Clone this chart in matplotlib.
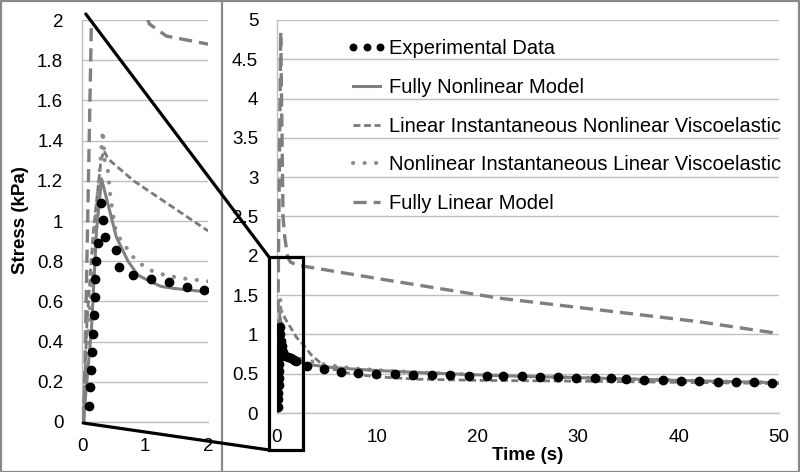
import numpy as np
import matplotlib
matplotlib.use("Agg")
import matplotlib.pyplot as plt
from matplotlib.patches import Rectangle, ConnectionPatch
from matplotlib.lines import Line2D

plt.rcParams['font.family'] = ['Liberation Sans', 'DejaVu Sans']
plt.rcParams['lines.scale_dashes'] = False

# ---------------- data ----------------
exp_t = [0.11, 0.13, 0.14, 0.16, 0.175, 0.19, 0.20, 0.21, 0.23, 0.25, 0.30, 0.33, 0.36,
         0.545, 0.58, 0.81, 1.10, 1.38, 1.66, 1.94,
         2.95, 4.7, 6.4, 8.1, 9.9, 11.8, 13.5, 15.4, 17.2, 19.1, 20.9, 22.5, 24.4, 26.2,
         28.0, 29.8, 31.7, 33.3, 34.8, 36.6, 38.4, 40.2, 42.0, 43.9, 45.7, 47.5, 49.3]
exp_s = [0.08, 0.175, 0.26, 0.35, 0.44, 0.53, 0.62, 0.71, 0.80, 0.89, 1.09, 1.005, 0.92,
         0.855, 0.77, 0.73, 0.71, 0.695, 0.673, 0.657,
         0.60, 0.555, 0.525, 0.505, 0.495, 0.49, 0.485, 0.48, 0.48, 0.475, 0.47, 0.47, 0.465, 0.46,
         0.455, 0.45, 0.445, 0.44, 0.43, 0.42, 0.415, 0.41, 0.405, 0.40, 0.395, 0.39, 0.385]

fnl_t = [0, 0.02, 0.15, 0.23, 0.31, 0.44, 0.545, 0.73, 0.89, 1.08, 1.25, 1.45, 1.95,
         2.3, 3, 5, 7.5, 10, 15, 20, 25, 30, 40, 50]
fnl_s = [0, 0, 0.46, 0.95, 1.21, 1.05, 0.92, 0.80, 0.73, 0.70, 0.675, 0.665, 0.648,
         0.64, 0.62, 0.585, 0.56, 0.54, 0.51, 0.485, 0.465, 0.45, 0.415, 0.385]

lin_inst_t = [0, 0.02, 0.08, 0.18, 0.30, 0.35, 0.41, 0.82, 1.34, 1.98, 2.3, 2.8, 3.4, 4.4,
              5.5, 7, 9, 10, 14, 20, 25, 30, 40, 50]
lin_inst_s = [0, 0, 0.5, 0.95, 1.30, 1.35, 1.31, 1.20, 1.09, 0.955, 0.92, 0.84, 0.74, 0.63,
              0.56, 0.51, 0.475, 0.46, 0.43, 0.415, 0.41, 0.405, 0.39, 0.375]

nl_inst_t = [0, 0.02, 0.10, 0.20, 0.28, 0.33, 0.36, 0.41, 0.44, 0.52, 0.62, 0.70, 0.78, 0.92,
             1.05, 1.21, 1.39, 1.58, 1.74, 1.92, 2.3, 3, 5, 7.5, 10, 15, 20, 25, 30, 40, 50]
nl_inst_s = [0, 0, 0.45, 0.95, 1.25, 1.45, 1.30, 1.25, 1.15, 0.97, 0.90, 0.87, 0.83, 0.79,
             0.76, 0.74, 0.726, 0.715, 0.71, 0.703, 0.69, 0.67, 0.61, 0.57, 0.545, 0.51, 0.485,
             0.465, 0.45, 0.415, 0.385]

flin_t = [0, 0.03, 0.15, 0.37, 0.6, 0.77, 1.07, 1.34, 2.0, 3, 11, 22.2, 32.2, 42.1, 50]
flin_s = [0, 0, 2.0, 4.85, 2.5, 2.24, 1.98, 1.92, 1.88, 1.86, 1.69, 1.46, 1.31, 1.16, 1.01]

labels = ["Experimental Data", "Fully Nonlinear Model",
          "Linear Instantaneous Nonlinear Viscoelastic",
          "Nonlinear Instantaneous Linear Viscoelastic", "Fully Linear Model"]

inset_xticks = [0, 1, 2]
inset_yticks = [0, 0.2, 0.4, 0.6, 0.8, 1, 1.2, 1.4, 1.6, 1.8, 2]
main_xticks = [0, 10, 20, 30, 40, 50]
main_yticks = [0, 0.5, 1, 1.5, 2, 2.5, 3, 3.5, 4, 4.5, 5]

# ---------------- figure ----------------
W, H = 800, 472
fig = plt.figure(figsize=(W / 100, H / 100), dpi=100)

axL = fig.add_axes([82 / W, 50 / H, 126 / W, 402 / H])
axM = fig.add_axes([277 / W, 59 / H, 502 / W, 393 / H])

GRID = '#bfbfbf'
GRAY = '#808080'

def draw(ax):
    h = []
    h.append(ax.plot(exp_t, exp_s, linestyle='none', marker='o', ms=6.0, color='black',
                     zorder=5)[0])
    h.append(ax.plot(fnl_t, fnl_s, '-', color=GRAY, lw=2.2, zorder=4)[0])
    h.append(ax.plot(lin_inst_t, lin_inst_s, color='#7a7a7a', lw=2.0,
                     dashes=(5, 2.6), zorder=3)[0])
    l = ax.plot(nl_inst_t, nl_inst_s, color='#8c8c8c', lw=3.0,
                dashes=(0.1, 8.2), zorder=3)[0]
    l.set_dash_capstyle('round')
    h.append(l)
    h.append(ax.plot(flin_t, flin_s, color='#7f7f7f', lw=2.4,
                     dashes=(9.5, 5), zorder=3)[0])
    return h

def style(ax, xt, yt, xlim, ylim):
    ax.set_xlim(*xlim)
    ax.set_ylim(*ylim)
    ax.set_xticks(xt)
    ax.set_yticks(yt)
    ax.set_xticklabels([f"{v:g}" for v in xt])
    ax.set_yticklabels([f"{v:g}" for v in yt])
    ax.yaxis.grid(True, color=GRID, lw=1.0)
    ax.set_axisbelow(True)
    for s in ['top', 'right']:
        ax.spines[s].set_visible(False)
    for s in ['left', 'bottom']:
        ax.spines[s].set_color(GRID)
        ax.spines[s].set_linewidth(1.0)
    ax.tick_params(length=0, labelsize=13.5, colors='black')
    ax.tick_params(axis='y', pad=13.5)
    ax.tick_params(axis='x', pad=11.5)

draw(axL)
handles = draw(axM)
style(axL, inset_xticks, inset_yticks, (0, 2), (0, 2))
style(axM, main_xticks, main_yticks, (0, 50), (0, 5))

fig.text(21 / W, 1 - 220 / H, "Stress (kPa)", rotation=90, ha='center', va='center',
         fontsize=13.5, fontweight='bold')
fig.text(528 / W, 1 - 456 / H, "Time (s)", ha='center', va='center',
         fontsize=13.5, fontweight='bold')

fig.legend(handles, labels, loc='upper left', bbox_to_anchor=(347 / W, 1 - 39.5 / H),
           frameon=False, fontsize=14.5, numpoints=3, handlelength=1.95, markerscale=0.78,
           handletextpad=0.12, labelspacing=0.97, borderpad=0, borderaxespad=0)

# zoom rectangle in main panel around the inset range
rx0, rx1, ry0, ry1 = -0.8, 2.6, -0.47, 1.985
axM.add_patch(Rectangle((rx0, ry0), rx1 - rx0, ry1 - ry0, fill=False, ec='black',
                        lw=2.3, clip_on=False, zorder=10))
for (xa, ya), (xb, yb) in [((0.06, 2.03), (rx0, ry1)), ((0.02, -0.005), (rx0, ry0))]:
    cp = ConnectionPatch(xyA=(xa, ya), coordsA=axL.transData,
                         xyB=(xb, yb), coordsB=axM.transData,
                         color='black', lw=2.3, zorder=10)
    fig.add_artist(cp)

# frame and divider
fig.add_artist(Rectangle((0.5 / W, 0.5 / H), (W - 1.5) / W, (H - 1.5) / H,
                         transform=fig.transFigure, fill=False, ec='#8a8a8a', lw=1.6))
fig.add_artist(Line2D([222 / W, 222 / W], [0, 1], transform=fig.transFigure,
                      color='#8a8a8a', lw=1.6))

fig.savefig("out.png", dpi=100)
